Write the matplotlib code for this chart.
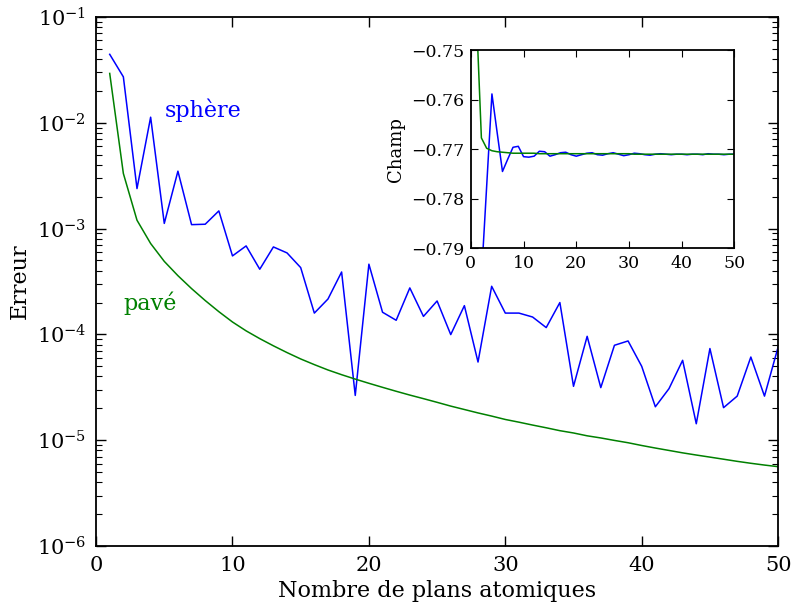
import numpy as np
import matplotlib
matplotlib.use("Agg")
import matplotlib.pyplot as plt
from matplotlib.ticker import LogLocator, FixedLocator

plt.rcParams['font.family'] = ['DejaVu Serif']
plt.rcParams['mathtext.fontset'] = 'dejavuserif'

# number of atomic planes
n_planes = list(range(1, 51))

# error, sphere (blue)
err_sphere = [4.44e-2, 2.72e-2, 2.39e-3, 1.13e-2, 1.12e-3, 3.49e-3, 1.09e-3, 1.10e-3, 1.47e-3, 5.52e-4,
              6.86e-4, 4.13e-4, 6.71e-4, 5.89e-4, 4.28e-4, 1.59e-4, 2.16e-4, 3.89e-4, 2.65e-5, 4.61e-4,
              1.62e-4, 1.36e-4, 2.75e-4, 1.48e-4, 2.07e-4, 9.96e-5, 1.87e-4, 5.48e-5, 2.85e-4, 1.59e-4,
              1.59e-4, 1.46e-4, 1.16e-4, 2.00e-4, 3.23e-5, 9.59e-5, 3.14e-5, 7.89e-5, 8.67e-5, 4.99e-5,
              2.07e-5, 3.07e-5, 5.69e-5, 1.43e-5, 7.35e-5, 2.03e-5, 2.61e-5, 6.11e-5, 2.61e-5, 7.60e-5]

# error, slab (green)
err_pave = [2.93e-2, 3.32e-3, 1.20e-3, 7.23e-4, 4.90e-4, 3.59e-4, 2.71e-4, 2.09e-4, 1.64e-4, 1.31e-4,
            1.08e-4, 9.12e-5, 7.80e-5, 6.73e-5, 5.86e-5, 5.18e-5, 4.61e-5, 4.16e-5, 3.78e-5, 3.45e-5,
            3.16e-5, 2.90e-5, 2.67e-5, 2.47e-5, 2.28e-5, 2.10e-5, 1.95e-5, 1.81e-5, 1.69e-5, 1.57e-5,
            1.48e-5, 1.39e-5, 1.31e-5, 1.23e-5, 1.17e-5, 1.10e-5, 1.05e-5, 9.95e-6, 9.46e-6, 8.91e-6,
            8.43e-6, 8.00e-6, 7.59e-6, 7.24e-6, 6.92e-6, 6.61e-6, 6.31e-6, 6.05e-6, 5.82e-6, 5.62e-6]

# field values for the inset
champ_sphere = [-0.8150, -0.7962, -0.7775, -0.7588, -0.7667, -0.7745, -0.7720, -0.7696, -0.7694, -0.7715,
                -0.7716, -0.7714, -0.7704, -0.7705, -0.7714, -0.7711, -0.7707, -0.7706, -0.7711, -0.7714,
                -0.7711, -0.7708, -0.7707, -0.7711, -0.7712, -0.7709, -0.7707, -0.7710, -0.7713, -0.7711,
                -0.7708, -0.7709, -0.7711, -0.7712, -0.7710, -0.7709, -0.7710, -0.7711, -0.7710, -0.7710,
                -0.7711, -0.7710, -0.7710, -0.7711, -0.7709, -0.7710, -0.7710, -0.7711, -0.7710, -0.7710]

champ_pave = [-0.7413, -0.7677, -0.7698, -0.7703, -0.7705, -0.7706, -0.7707, -0.7708, -0.7708, -0.7708,
              -0.7708, -0.7708, -0.7709, -0.7709, -0.7709, -0.7709, -0.7709, -0.7709, -0.7709, -0.7709,
              -0.7709, -0.7709, -0.7709, -0.7709, -0.7709, -0.7709, -0.7709, -0.7709, -0.7709, -0.7709,
              -0.7710, -0.7710, -0.7710, -0.7710, -0.7710, -0.7710, -0.7710, -0.7710, -0.7710, -0.7710,
              -0.7710, -0.7710, -0.7710, -0.7710, -0.7710, -0.7710, -0.7710, -0.7710, -0.7710, -0.7710]

fig = plt.figure(figsize=(7.94, 6.08), dpi=100)
ax = fig.add_axes([0.121, 0.102, 0.859, 0.870])

ax.semilogy(n_planes, err_sphere, color='#0000ff', lw=1.1)
ax.semilogy(n_planes, err_pave, color='#008000', lw=1.1)
ax.set_xlim(0, 50)
ax.set_ylim(1e-6, 1e-1)
ax.set_xticks([0, 10, 20, 30, 40, 50])
ax.yaxis.set_major_locator(LogLocator(base=10, numticks=10))
ax.yaxis.set_minor_locator(LogLocator(base=10, subs=np.arange(2, 10), numticks=10))
ax.tick_params(which='both', direction='in', top=True, right=True, labelsize=15)
ax.tick_params(which='major', length=7, width=1, pad=7)
ax.tick_params(which='minor', length=4, width=0.8)
for s in ax.spines.values():
    s.set_linewidth(1.3)
ax.set_xlabel("Nombre de plans atomiques", fontsize=16, labelpad=4)
ax.set_ylabel("Erreur", fontsize=16, labelpad=4)

ax.text(5.0, 1.32e-2, "sphère", color='#0000ff', fontsize=16, va='center')
ax.text(2.0, 1.97e-4, "pavé", color='#008000', fontsize=16, va='center')

# inset with the field values
axin = fig.add_axes([0.593, 0.592, 0.332, 0.325])
axin.plot(n_planes, champ_sphere, color='#0000ff', lw=1.1)
axin.plot(n_planes, champ_pave, color='#008000', lw=1.1)
axin.set_xlim(0, 50)
axin.set_ylim(-0.79, -0.75)
axin.set_xticks([0, 10, 20, 30, 40, 50])
axin.yaxis.set_major_locator(FixedLocator([-0.79, -0.78, -0.77, -0.76, -0.75]))
axin.tick_params(direction='in', top=True, right=True, labelsize=12.5, length=5, pad=5)
for s in axin.spines.values():
    s.set_linewidth(1.3)
axin.set_ylabel("Champ", fontsize=13, labelpad=4)

fig.savefig("out.png", dpi=100)
